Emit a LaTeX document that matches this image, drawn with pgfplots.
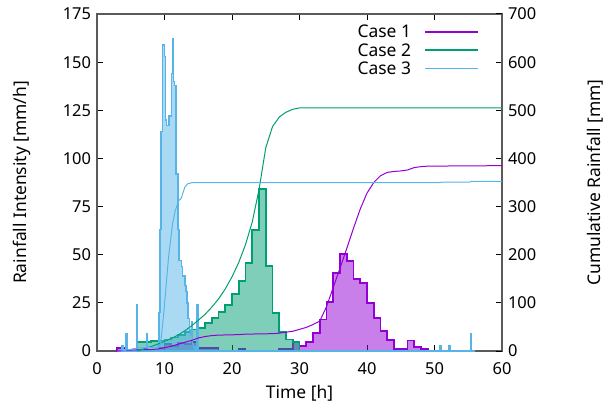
\documentclass[border=0pt]{standalone}
\usepackage{pgfplots}
\pgfplotsset{compat=1.18}
\usepackage{fontspec}
\setmainfont{Noto Sans}
\definecolor{cA}{HTML}{9400D3}
\definecolor{cB}{HTML}{009E73}
\definecolor{cC}{HTML}{56B4E9}
\definecolor{frm}{HTML}{5A5A5A}
\newcommand{\tickfont}{\fontsize{16.5}{19}\selectfont}
\newcommand{\labfont}{\fontsize{17.5}{20}\selectfont}
\begin{document}
\labfont
\begin{tikzpicture}
\pgfplotsset{
  base/.style={
    scale only axis, width=405bp, height=337bp,
    xmin=0, xmax=60,
    major tick length=6bp,
    tick style={black, line width=1bp},
    /pgf/number format/assume math mode=true,
    tick label style={font=\tickfont},
    label style={font=\labfont},
    axis line style={frm, line width=1.3bp},
  }
}
\begin{axis}[base, name=ax,
  ymin=0, ymax=175, ytick={0,25,...,175}, xtick={0,10,...,60},
  ytick pos=left, xtick pos=both,
  xticklabel style={yshift=-6bp},
  xlabel={Time [h]}, ylabel={Rainfall Intensity [mm/h]},
  every axis x label/.style={at={(axis description cs:0.5,-0.1246)}, anchor=center},
  every axis y label/.style={at={(axis description cs:-0.1852,0.5)}, rotate=90, anchor=center},
]
% Case 1 histogram
\addplot[const plot, draw=cA, line width=1.8bp, fill=cA, fill opacity=0.5] coordinates {
(3,1.4) (4.5,0) (9,1.4) (10,3.5) (11,2.8) (12,4.3) (13,3.5) (14,4.8) (15,1.4) (18,0) (21,1.2) (22,0) (27,1.2) (29,4.5)
(30,2.6) (31,4.8) (32,9.5) (33,16.4) (34,25.6) (35,40.3) (36,50.4) (37,46.6) (38,37.4) (39,35.5) (40,24.8)
(41,17.3) (42,10.5) (43,5.7) (44,1.0) (46,5.5) (47,1.9) (48,1.0) (49,1.0)
} \closedcycle;
% Case 2 histogram
\addplot[const plot, draw=cB, line width=1.8bp, fill=cB, fill opacity=0.5] coordinates {
(6,4.5) (7,4.5) (8,5) (9,5.5) (10,6) (11,7) (12,8.5) (13,10) (14,11.2) (15,12) (16,14.5) (17,17) (18,20.4)
(19,23.9) (20,29.4) (21,36.5) (22,45.5) (23,63) (24,84) (25,44) (26,19.6) (27,10) (28,6) (29,4.5) (30,4.5)
} \closedcycle;
% Case 3 histogram
\addplot[const plot, draw=cC, line width=1.5bp, fill=cC, fill opacity=0.5] coordinates {
(3.0,0) (3.67,2.8) (3.83,0) (4.33,9) (4.5,0) (5.83,24) (6.0,0) (7.33,9) (7.5,0)
(9.0,3) (9.17,20) (9.33,63) (9.5,114) (9.67,159) (9.83,159) (10.0,153) (10.17,120) (10.33,117) (10.5,117)
(10.67,122) (10.83,122) (11.0,144) (11.17,162) (11.33,140) (11.5,138) (11.67,92) (11.83,92) (12.0,63)
(12.17,47) (12.33,47) (12.5,44) (12.67,39) (12.83,39) (13.0,34) (13.17,31) (13.33,25) (13.5,17) (13.67,11)
(13.83,8) (14.0,15) (14.17,4) (14.33,2) (14.5,0) (14.83,24) (15.0,0)
(50.83,2.6) (51.0,0) (52.17,2.6) (52.33,0) (55.33,8.8) (55.5,0) (56,0)
} \closedcycle;
\end{axis}
\begin{axis}[base,
  ymin=0, ymax=700, ytick={0,100,...,700},
  axis y line*=right, axis x line=none,
  ylabel={Cumulative Rainfall [mm]},
  every axis y label/.style={at={(axis description cs:1.2296,0.5)}, rotate=90, anchor=center},
]
\addplot[cA, line width=1bp] coordinates {
(3,0) (4,1) (5,2) (6,2.5) (8,3) (9,4) (10,7) (11,10) (12,14) (13,18) (14,22) (15,27) (16,30) (17,32) (18,33)
(21,34) (22,35) (26,36) (27,37) (28,39) (29,41) (30,45) (31,49) (32,55) (33,62) (34,92) (35,132) (36,172)
(37,213) (38,255) (39,295) (40,328) (41,350) (42,364) (43,371) (44,373) (45,374) (46,376) (47,381) (48,383)
(49,384) (60,385)
};
\addplot[cB, line width=1bp] coordinates {
(6,0) (7,4.6) (8,9.2) (9,14.4) (10,20) (11,26) (12,33) (13,42) (14,52) (15,64) (16,76) (17,91) (18,108)
(19,129) (20,154) (21,184) (22,221) (23,268) (24,335) (25,422) (26,466) (27,486) (28,496) (29,502) (30,505) (60,505)
};
\addplot[cC, line width=1bp] coordinates {
(3.5,0) (3.8,0.5) (4.4,2) (5.9,6) (7.4,7.5) (9.0,8) (9.4,12) (9.9,80) (10.6,195) (11.2,265) (11.6,292)
(12.1,312) (12.5,318) (13.0,340) (13.4,347) (14.0,349.5) (15,350) (50.8,350) (51,350.5) (52.2,351)
(55.3,351) (55.5,352.5) (60,352.5)
};
% legend keys
\addplot[cA, line width=1.6bp, forget plot] coordinates {(48.64,663.2) (56.49,663.2)};
\addplot[cB, line width=1.6bp, forget plot] coordinates {(48.64,625.2) (56.49,625.2)};
\addplot[cC, line width=1.6bp, forget plot] coordinates {(48.64,587.2) (56.49,587.2)};
\node[anchor=east, inner sep=0pt, font=\labfont] at (axis cs:46.56,663.2) {Case 1};
\node[anchor=east, inner sep=0pt, font=\labfont] at (axis cs:46.56,625.2) {Case 2};
\node[anchor=east, inner sep=0pt, font=\labfont] at (axis cs:46.56,587.2) {Case 3};
\end{axis}
\pgfresetboundingbox
\path ([xshift=-97bp,yshift=-56bp]ax.south west) rectangle ([xshift=109bp,yshift=14bp]ax.north east);
\end{tikzpicture}
\end{document}
